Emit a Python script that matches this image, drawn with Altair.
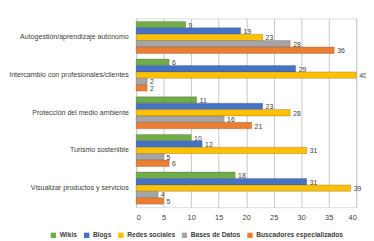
import altair as alt
import pandas as pd

categories = ["Autogestión/aprendizaje autónomo", "Intercambio con profesionales/clientes",
              "Protección del medio ambiente", "Turismo sostenible", "Visualizar productos y servicios"]
series = ["Wikis", "Blogs", "Redes sociales", "Bases de Datos", "Buscadores especializados"]
colors = ["#70AD47", "#4472C4", "#FFC000", "#A5A5A5", "#ED7D31"]
wikis = [9, 6, 11, 10, 18]
blogs = [19, 29, 23, 12, 31]
redes = [23, 40, 28, 31, 39]
bases = [28, 2, 16, 5, 4]
buscadores = [36, 2, 21, 6, 5]
ticks = [0, 5, 10, 15, 20, 25, 30, 35, 40]

rows = []
for vals, s in zip([wikis, blogs, redes, bases, buscadores], series):
    for c, v in zip(categories, vals):
        rows.append({"cat": c, "serie": s, "v": v})
df = pd.DataFrame(rows)

FONT = "Liberation Sans"

y = alt.Y("cat:N", sort=categories, title=None,
          scale=alt.Scale(paddingInner=0.15, paddingOuter=0.08),
          axis=alt.Axis(domain=False, ticks=False, labelFontSize=7.2, labelColor="#404040",
                        labelFont=FONT, labelPadding=8, labelLimit=200))
yoff = alt.YOffset("serie:N", sort=series, scale=alt.Scale(paddingInner=0.0))
x = alt.X("v:Q", title=None, scale=alt.Scale(domain=[0, 40], nice=False),
          axis=alt.Axis(values=ticks, domain=False, ticks=False,
                        labelFontSize=7.5, labelColor="#404040", labelFont=FONT,
                        labelOverlap=False, gridColor="#C8C8C8", labelPadding=7))

bars = alt.Chart(df).mark_bar(strokeWidth=0.6, stroke="#555555", strokeOpacity=0.5).encode(
    x=x, y=y, yOffset=yoff,
    color=alt.Color("serie:N", sort=series,
                    scale=alt.Scale(domain=series, range=colors),
                    legend=alt.Legend(title=None, orient="none", direction="horizontal",
                                      legendX=-88, legendY=218, symbolType="square",
                                      symbolSize=30, labelFontSize=6.8, labelFontWeight="bold",
                                      labelFont=FONT, labelColor="#404040",
                                      columnPadding=6, labelOffset=3, symbolStrokeWidth=0)),
)
text = alt.Chart(df).mark_text(align="left", dx=3, dy=1, fontSize=7, font=FONT,
                               color="#404040").encode(
    x=x, y=y, yOffset=yoff, text="v:Q")

chart = alt.layer(bars, text).properties(
    width=225, height=193,
    autosize=alt.AutoSizeParams(type="none"),
    padding={"left": 131, "top": 8, "right": 10, "bottom": 32},
).configure_view(stroke=None).configure(background="white")

chart.save("out.html", embed_options={"renderer": "svg", "actions": False})
